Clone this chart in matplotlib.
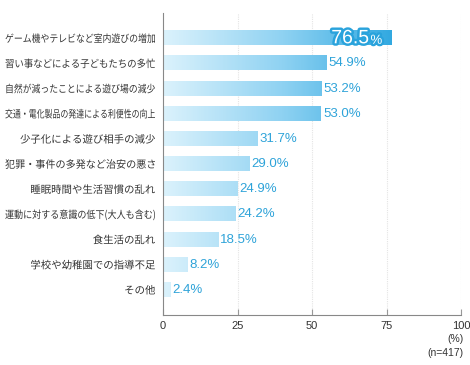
import numpy as np
import matplotlib
matplotlib.use('Agg')
import matplotlib.pyplot as plt
from matplotlib.colors import LinearSegmentedColormap
from matplotlib.textpath import TextPath
from matplotlib.font_manager import FontProperties
from matplotlib.patches import PathPatch
from matplotlib.transforms import Affine2D, IdentityTransform
import matplotlib.patheffects as pe

plt.rcParams['font.family'] = ['Noto Sans CJK JP', 'DejaVu Sans']

# データ
labels = ['ゲーム機やテレビなど室内遊びの増加', '習い事などによる子どもたちの多忙',
          '自然が減ったことによる遊び場の減少', '交通・電化製品の発達による利便性の向上',
          '少子化による遊び相手の減少', '犯罪・事件の多発など治安の悪さ',
          '睡眠時間や生活習慣の乱れ', '運動に対する意識の低下(大人も含む)',
          '食生活の乱れ', '学校や幼稚園での指導不足', 'その他']
values = [76.5, 54.9, 53.2, 53.0, 31.7, 29.0, 24.9, 24.2, 18.5, 8.2, 2.4]
xticks = [0, 25, 50, 75, 100]

blue = '#2ea3d9'
cmap = LinearSegmentedColormap.from_list('bar', ['#dbf2fc', '#8fd2f2', '#2aa5df'])

DPI = 100
fig = plt.figure(figsize=(4.7, 3.65), dpi=DPI)
ax = fig.add_axes([0.3468, 0.137, 0.981 - 0.3468, 0.964 - 0.137])

h = 0.56
for i, v in enumerate(values):
    n = 200
    grad = np.linspace(0, v / 80.0, n).clip(0, 1).reshape(1, -1)
    ax.imshow(grad, cmap=cmap, vmin=0, vmax=1, aspect='auto',
              extent=(0, v, i + h / 2, i - h / 2), zorder=2, interpolation='bilinear')
    if i == 0:
        st = [pe.Stroke(linewidth=3.5, foreground='#2aa3dc'), pe.Normal()]
        ax.text(v - 7.3, i + 0.02, '76.5', color='white', fontsize=14,
                family=['Liberation Sans'], ha='right', va='center',
                path_effects=st, zorder=4)
        ax.text(v - 2.9, i + 0.1, '%', color='white', fontsize=9.5,
                family=['Liberation Sans'], ha='right', va='center',
                path_effects=st, zorder=4)
    else:
        ax.text(v + 0.7, i, f'{v:.1f}%', color=blue, fontsize=9.5,
                family=['Liberation Sans'], ha='left', va='center', zorder=4)

ax.set_xlim(0, 100)
ax.set_ylim(11, -1)
ax.set_yticks(range(len(labels)))
ax.set_yticklabels([])
ax.tick_params(axis='y', length=0)
ax.set_xticks(xticks)
ax.set_xticklabels([str(t) for t in xticks], fontsize=8, color='#333333',
                   family=['Liberation Sans'])
ax.tick_params(axis='x', direction='in', length=4, color='#999999', pad=4)

# 項目名: 長いものは横方向に圧縮して幅150pxに収める
fp = FontProperties(family='Noto Sans CJK JP', size=7.5)
px = DPI / 72.0
right_px = 155
maxw = 150
for i, lab in enumerate(labels):
    tp = TextPath((0, 0), lab, prop=fp)
    ext = tp.get_extents()
    w = ext.x1 * px
    sx = min(1.0, maxw / w)
    yc = ax.transData.transform((0, i))[1]
    tr = Affine2D().scale(px * sx, px).translate(right_px - w * sx, yc - 0.37 * 7.5 * px)
    fig.patches.append(PathPatch(tp, transform=tr + IdentityTransform(),
                                 facecolor='#333333', edgecolor='none', figure=fig))

for t in xticks[1:]:
    ax.axvline(t, color='#e4e4e4', linestyle=(0, (1, 1)), linewidth=0.8, zorder=1)

for s in ['top', 'right']:
    ax.spines[s].set_visible(False)
for s in ['left', 'bottom']:
    ax.spines[s].set_color('#888888')
    ax.spines[s].set_linewidth(0.8)

fig.text(464 / 470, 1 - 339 / 365, '(%)', fontsize=7.5, color='#333333',
         ha='right', va='center', family=['Liberation Sans'])
fig.text(464 / 470, 1 - 353 / 365, '(n=417)', fontsize=7.5, color='#333333',
         ha='right', va='center', family=['Liberation Sans'])

fig.savefig('out.png', dpi=DPI)
